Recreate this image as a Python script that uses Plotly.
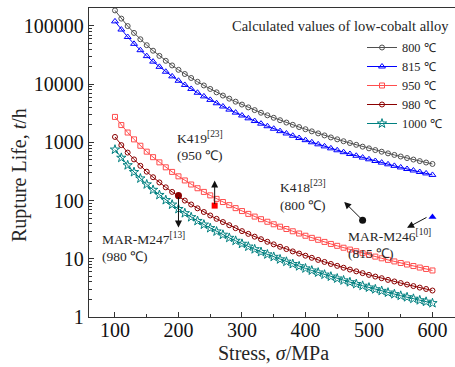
import math
import plotly.graph_objects as go

stress = list(range(100, 610, 10))

life_800 = [185000, 133900, 99700, 76050, 59140, 46790, 37610, 30640, 25220, 21000,
            17650, 14960, 12780, 10990, 9511, 8284, 7246, 6379, 5639, 5008,
            4464, 3992, 3587, 3232, 2921, 2646, 2405, 2192, 2004, 1833,
            1684, 1548, 1428, 1317, 1217, 1129, 1047, 975, 908, 845,
            790, 738, 692, 648, 609, 572, 538, 507, 477, 451, 426]
life_815 = [120000, 86880, 64670, 49330, 38360, 30350, 24400, 19870, 16360, 13620,
            11450, 9702, 8290, 7128, 6169, 5374, 4700, 4138, 3658, 3248,
            2896, 2590, 2327, 2096, 1895, 1716, 1560, 1422, 1300, 1189,
            1092, 1004, 926, 854, 790, 732, 679, 632, 589, 548,
            512, 479, 449, 420, 395, 371, 349, 329, 310, 293, 276]
life_950 = [2740, 1984, 1477, 1126, 876, 693, 557, 454, 373, 311,
            261, 222, 189, 163, 141, 123, 107, 94.5, 83.5, 74.2,
            66.1, 59.1, 53.1, 47.9, 43.3, 39.2, 35.6, 32.5, 29.7, 27.2,
            24.9, 22.9, 21.2, 19.5, 18.0, 16.7, 15.5, 14.4, 13.5, 12.5,
            11.7, 10.9, 10.2, 9.59, 9.01, 8.47, 7.97, 7.51, 7.07, 6.69, 6.30]
life_980 = [1240, 898, 668, 510, 396, 314, 252, 205, 169, 141,
            118, 100, 85.7, 73.7, 63.7, 55.5, 48.6, 42.8, 37.8, 33.6,
            29.9, 26.8, 24.0, 21.7, 19.6, 17.7, 16.1, 14.7, 13.4, 12.3,
            11.3, 10.4, 9.57, 8.83, 8.16, 7.56, 7.02, 6.53, 6.09, 5.67,
            5.29, 4.95, 4.64, 4.34, 4.08, 3.83, 3.61, 3.40, 3.20, 3.03, 2.85]
life_1000 = [752, 544, 405, 309, 240, 190, 153, 125, 102, 85.4,
             71.7, 60.8, 51.9, 44.7, 38.7, 33.7, 29.5, 25.9, 22.9, 20.4,
             18.1, 16.2, 14.6, 13.1, 11.9, 10.8, 9.78, 8.91, 8.14, 7.45,
             6.84, 6.29, 5.81, 5.35, 4.95, 4.59, 4.26, 3.96, 3.69, 3.44,
             3.21, 3.00, 2.81, 2.63, 2.47, 2.32, 2.19, 2.06, 1.94, 1.83, 1.73]

series_names = ["800 ℃", "815 ℃", "950 ℃", "980 ℃", "1000 ℃"]

# reference alloy points
ref_names = ["K419", "MAR-M247", "K418", "MAR-M246"]
ref_stress = [257, 200, 490, 600]
ref_life = [82, 122, 46, 52]
# arrow tails (at points) and heads
arrow_tail_stress = [257, 200, 490, 593]
arrow_tail_life = [82, 122, 46, 53]
arrow_head_stress = [257, 200, 461, 560]
arrow_head_life = [221, 34.4, 95, 34]

x_ticks = [100, 200, 300, 400, 500, 600]
y_ticks = [1, 10, 100, 1000, 10000, 100000]
y_ticktext = ["1", "10", "100", "1000", "10000", "100000"]

FONT = "Liberation Serif, Times New Roman, serif"
TXT = "#262626"

styles = [
    dict(color="#505050", symbol="circle-open", size=5),
    dict(color="#0000ff", symbol="triangle-up-open", size=6),
    dict(color="#ff4d4d", symbol="square-open", size=5),
    dict(color="#8b0000", symbol="circle-open", size=5),
    dict(color="#008080", symbol="star-open", size=7),
]

fig = go.Figure()
for name, ys, st in zip(series_names, [life_800, life_815, life_950, life_980, life_1000], styles):
    fig.add_trace(go.Scatter(
        x=stress, y=ys, name=name, mode="lines+markers",
        line=dict(color=st["color"], width=1),
        marker=dict(symbol=st["symbol"], size=st["size"], color=st["color"],
                    line=dict(width=1, color=st["color"])),
    ))

ref_styles = [
    dict(color="#ff0000", symbol="square", size=6),
    dict(color="#8b0000", symbol="circle", size=7),
    dict(color="#111111", symbol="circle", size=7),
    dict(color="#0000ff", symbol="triangle-up", size=7),
]
for nm, xs, ys, st in zip(ref_names, ref_stress, ref_life, ref_styles):
    fig.add_trace(go.Scatter(x=[xs], y=[ys], mode="markers", name=nm, showlegend=False,
                             marker=dict(symbol=st["symbol"], size=st["size"], color=st["color"])))

annotations = []
for tx, ty, hx, hy in zip(arrow_tail_stress, arrow_tail_life, arrow_head_stress, arrow_head_life):
    annotations.append(dict(
        x=hx, y=math.log10(hy), ax=tx, ay=math.log10(ty), xref="x", yref="y",
        axref="x", ayref="y", text="", showarrow=True, arrowhead=2, arrowsize=1.4,
        arrowwidth=1, arrowcolor="#111111", standoff=0, startstandoff=0,
    ))

W0, H0 = 89, 317
PW, PH = 366, 309


def px(x):
    return (x - W0) / PW


def py(y):
    return (H0 - y) / PH


labels = [
    ("K419<sup>[23]</sup>", 175, 137),
    ("(950 ℃)", 175, 155),
    ("K418<sup>[23]</sup>", 278, 186),
    ("(800 ℃)", 278, 205),
    ("MAR-M247<sup>[13]</sup>", 100, 238),
    ("(980 ℃)", 100, 256),
    ("MAR-M246<sup>[10]</sup>", 346, 235),
    ("(815 ℃)", 346, 253),
]
for t, lx, ly in labels:
    annotations.append(dict(text=t, x=px(lx), y=py(ly), xref="paper", yref="paper",
                            xanchor="left", yanchor="middle", showarrow=False,
                            font=dict(family=FONT, size=13.5, color=TXT)))

annotations.append(dict(text="Calculated values of low-cobalt alloy", x=px(230), y=py(26),
                        xref="paper", yref="paper", xanchor="left", yanchor="middle",
                        showarrow=False, font=dict(family=FONT, size=14.5, color=TXT)))
annotations.append(dict(text="Stress, <i>σ</i>/MPa", x=px(273), y=py(353),
                        xref="paper", yref="paper", xanchor="center", yanchor="middle",
                        showarrow=False, font=dict(family=FONT, size=20, color=TXT)))
annotations.append(dict(text="Rupture Life, <i>t</i>/h", x=px(19), y=py(175),
                        xref="paper", yref="paper", xanchor="center", yanchor="middle",
                        textangle=-90, showarrow=False, font=dict(family=FONT, size=20, color=TXT)))

minor_y = [m * 10 ** e for e in range(0, 6) for m in range(2, 10)]

fig.update_layout(
    width=455, height=367,
    margin=dict(l=W0, r=0, t=8, b=50, pad=0),
    paper_bgcolor="white", plot_bgcolor="white",
    font=dict(family=FONT, color=TXT),
    showlegend=True,
    legend=dict(x=px(362), y=py(33), xanchor="left", yanchor="top",
                bgcolor="rgba(0,0,0,0)", font=dict(family=FONT, size=12.3, color=TXT),
                itemwidth=30, tracegroupgap=0),
    annotations=annotations,
    xaxis=dict(range=[59.1, 635.5], tickvals=x_ticks, ticks="inside", ticklen=5, tickwidth=1,
               tickcolor="#333", showline=True, linecolor="#333", linewidth=1.3, mirror=True,
               ticklabelstandoff=-5,
               showgrid=False, zeroline=False, tickfont=dict(family=FONT, size=20, color="#111"),
               minor=dict(dtick=50, tick0=0, ticks="inside", ticklen=3, tickcolor="#333", showgrid=False)),
    yaxis=dict(type="log", range=[0, 5.309], tickvals=y_ticks, ticktext=y_ticktext,
               ticks="inside", ticklen=5, tickwidth=1, tickcolor="#333",
               showline=True, linecolor="#333", linewidth=1.3, mirror=False,
               showgrid=False, zeroline=False, tickfont=dict(family=FONT, size=20, color="#111"),
               minor=dict(tickvals=minor_y, ticks="inside", ticklen=3, tickcolor="#333", showgrid=False)),
)

fig.write_html("out.html")
